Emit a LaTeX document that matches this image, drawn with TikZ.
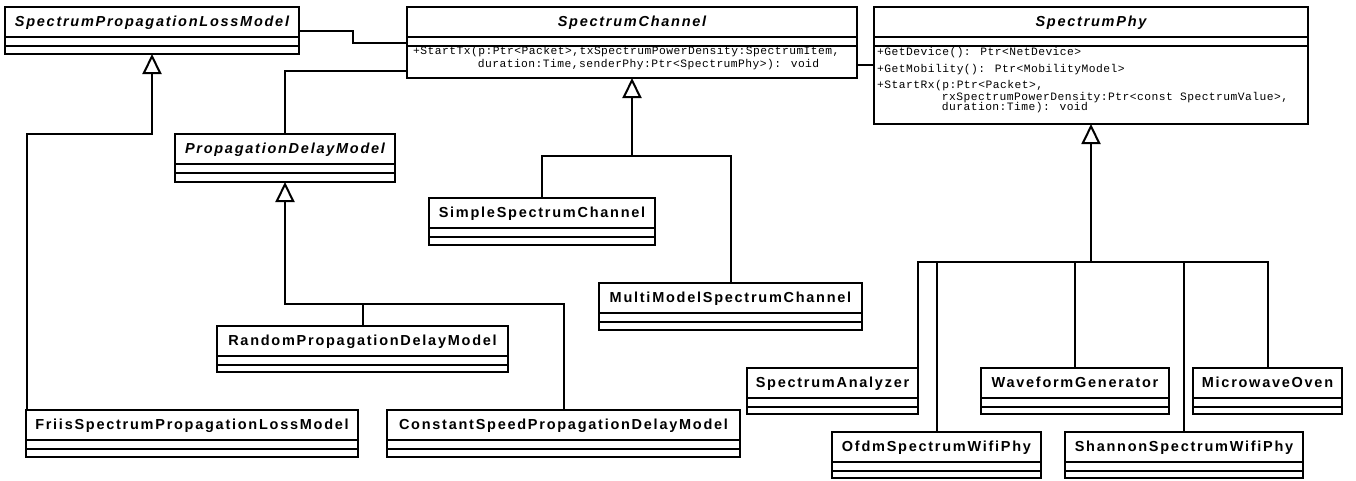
\documentclass[tikz,border=0pt]{standalone}
\usepackage{fontspec}
\setmainfont{Liberation Sans}
\newfontfamily\titlefont[LetterSpace=12]{Liberation Sans}
\newfontfamily\opfont[LetterSpace=4]{Liberation Mono}
\usetikzlibrary{arrows.meta}
\tikzset{
  classbox/.style={draw, line width=2pt, inner sep=0pt, outer sep=0pt, fill=white},
  sepline/.style={line width=2pt},
  ctitle/.style={anchor=base, inner sep=0pt, font={\titlefont\fontsize{14.5}{16}\selectfont\bfseries}},
  atitle/.style={anchor=base, inner sep=0pt, font={\titlefont\fontsize{14.5}{16}\selectfont\bfseries\itshape}},
  optext/.style={anchor=base west, inner sep=0pt, align=left, font={\opfont\fontsize{11.3}{13}\selectfont}},
  assoc/.style={line width=2pt},
  branch/.style={line width=2pt},
  gentip/.style={-{Triangle[open, length=20pt, width=19pt, line width=2pt]}},
  shaft/.style={line width=2.8pt, gentip},
}
\newcommand\umlclass[7]{%
  \node[classbox, minimum width={(#4-#2)*1pt}, minimum height={(#5-#3)*1pt}] (#1) at ({(#2+#4)/2},{(#3+#5)/2}) {};
  \draw[sepline] (#2,#3+30) -- (#4,#3+30) (#2,#3+38.5) -- (#4,#3+38.5);
  \node[#6] (#1-t) at ({(#2+#4)/2},#3+19.5) {#7};
}
\begin{document}
\begin{tikzpicture}[x=1pt, y=-1pt]
\fill[white] (0,0) rectangle (1356,480);
\useasboundingbox (0,0) rectangle (1356,480);

% classes
\umlclass{splm}{5}{7}{299}{54}{atitle}{SpectrumPropagationLossModel}
\umlclass{sc}{407}{7}{857}{78}{atitle}{SpectrumChannel}
\umlclass{sp}{874}{7}{1308}{124}{atitle}{SpectrumPhy}
\umlclass{pdm}{175}{134}{395}{182}{atitle}{PropagationDelayModel}
\umlclass{simple}{429}{198}{655}{245}{ctitle}{SimpleSpectrumChannel}
\umlclass{multi}{599}{283}{862}{330}{ctitle}{MultiModelSpectrumChannel}
\umlclass{random}{217}{326}{508}{372}{ctitle}{RandomPropagationDelayModel}
\umlclass{friis}{26}{410}{358}{457}{ctitle}{FriisSpectrumPropagationLossModel}
\umlclass{const}{387}{410}{740}{457}{ctitle}{ConstantSpeedPropagationDelayModel}
\umlclass{sa}{747}{368}{918}{414}{ctitle}{SpectrumAnalyzer}
\umlclass{wave}{981}{368}{1169}{414}{ctitle}{WaveformGenerator}
\umlclass{micro}{1193}{368}{1342}{414}{ctitle}{MicrowaveOven}
\umlclass{ofdm}{832}{432}{1041}{478}{ctitle}{OfdmSpectrumWifiPhy}
\umlclass{shannon}{1065}{432}{1303}{478}{ctitle}{ShannonSpectrumWifiPhy}

% operations (anchor = baseline of the last line)
\node[optext] (sc-op) at (413,67) {+StartTx(p:Ptr<Packet>,txSpectrumPowerDensity:SpectrumItem,\\\phantom{xxxxxxxxx}duration:Time,senderPhy:Ptr<SpectrumPhy>): void};
\node[optext] (sp-op1) at (877,55) {+GetDevice(): Ptr<NetDevice>};
\node[optext] (sp-op2) at (877,72) {+GetMobility(): Ptr<MobilityModel>};
\node[optext] (sp-op3) at (877,110) {+StartRx(p:Ptr<Packet>,\\[-1pt]\phantom{xxxxxxxxx}rxSpectrumPowerDensity:Ptr<const SpectrumValue>,\\[-3.5pt]\phantom{xxxxxxxxx}duration:Time): void};

% associations
\draw[assoc] (splm.east) -- (353,30.5) |- (sc.west);
\draw[assoc] (sc.west |- 0,71) -| (pdm.north);
\draw[assoc] (sc.east |- 0,65) -- (sp.west |- 0,65);

% generalization: SpectrumPropagationLossModel
\coordinate (splmbus) at (splm.south |- 0,134);
\draw[assoc, gentip] ([xshift=1pt]friis.north west) |- (splmbus) -- (splm.south);

% generalization: PropagationDelayModel
\coordinate (pdmbus) at (pdm.south |- 0,304);
\draw[shaft] (random.north |- pdmbus) -- (pdmbus) -- (pdm.south);
\draw[branch] (random.north) -- (random.north |- pdmbus);
\draw[branch] (const.north) |- (random.north |- pdmbus);

% generalization: SpectrumChannel
\coordinate (scbus) at (sc.south |- 0,156);
\draw[shaft] (scbus) -- (sc.south);
\draw[branch] (simple.north) |- (scbus);
\draw[branch] (multi.north) |- (scbus);

% generalization: SpectrumPhy
\coordinate (spbus) at (sp.south |- 0,262);
\draw[shaft] (spbus) -- (sp.south);
\draw[branch] (sa.north east) |- (spbus);
\draw[branch] (ofdm.north) |- (spbus);
\draw[branch] (wave.north) |- (spbus);
\draw[branch] (shannon.north) |- (spbus);
\draw[branch] (micro.north) |- (spbus);
\end{tikzpicture}
\end{document}
